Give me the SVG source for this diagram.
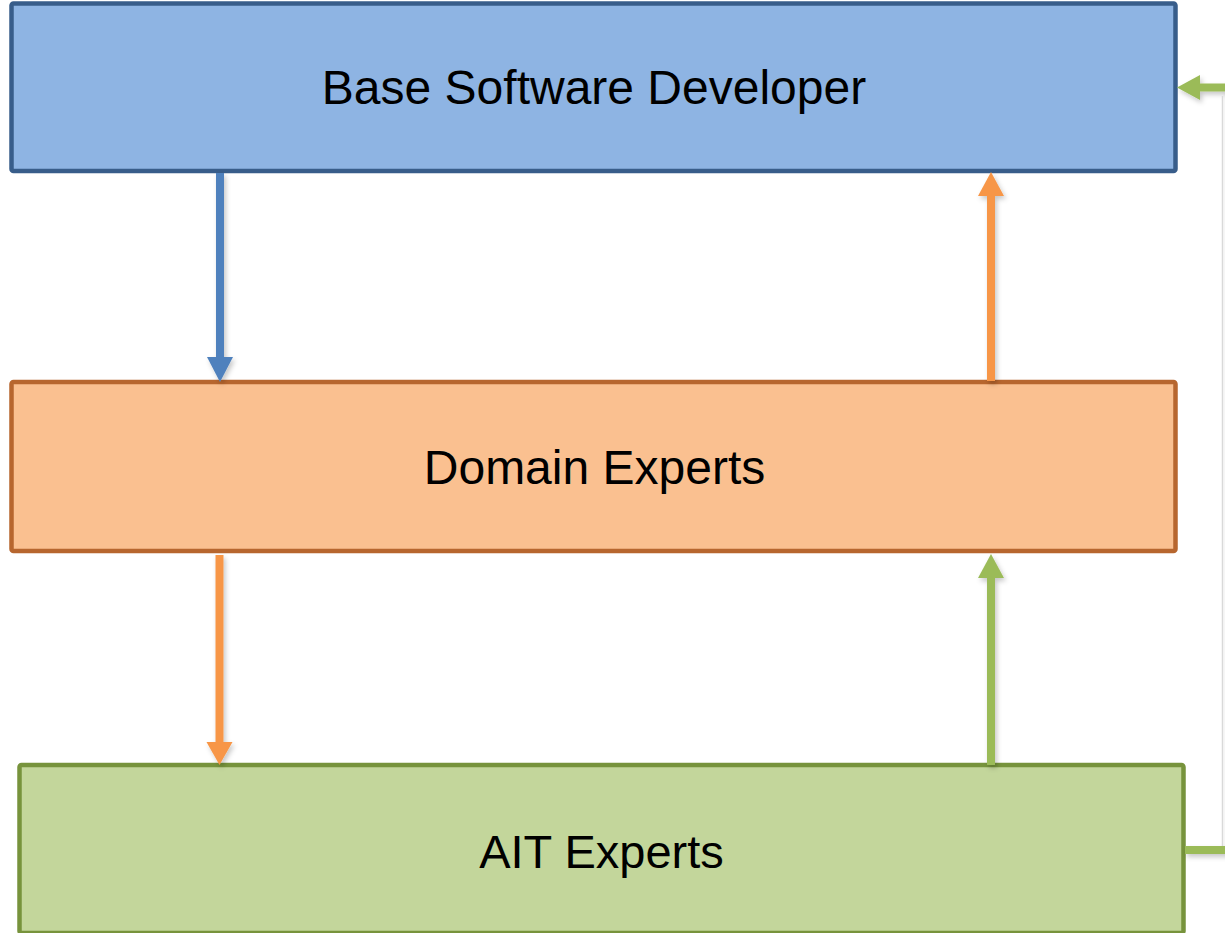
<svg xmlns="http://www.w3.org/2000/svg" width="1225" height="933" viewBox="0 0 1225 933">
  <style>
    .box { stroke-width: 4.5; }
    .label { font-family: "Liberation Sans", Arial, sans-serif; font-size: 48px; fill: #000; text-anchor: middle; }
    .shaft { fill: none; stroke-width: 8; }
  </style>
  <defs>
    <filter id="soft" x="-20%" y="-20%" width="140%" height="140%">
      <feDropShadow dx="2" dy="3" stdDeviation="2.5" flood-color="#000" flood-opacity="0.22"/>
    </filter>
  </defs>

  <rect width="1225" height="933" fill="#fff"/>

  <!-- role boxes -->
  <g id="base-software-developer">
    <rect class="box" x="11.5" y="3.5" width="1164" height="167.5" rx="2" fill="#8EB4E3" stroke="#385D8A"/>
    <text class="label" x="594" y="104">Base Software Developer</text>
  </g>
  <g id="domain-experts">
    <rect class="box" x="11.5" y="382" width="1164" height="169" rx="2" fill="#FAC090" stroke="#B7662E"/>
    <text class="label" x="594.5" y="484">Domain Experts</text>
  </g>
  <g id="ait-experts">
    <rect class="box" x="19.5" y="765" width="1164" height="168" rx="2" fill="#C3D69B" stroke="#77933C"/>
    <text class="label" x="601.5" y="868" style="font-size:47px">AIT Experts</text>
  </g>

  <!-- connectors -->
  <g id="connectors" filter="url(#soft)">
    <!-- developer to domain experts -->
    <line class="shaft" x1="220" y1="173" x2="220" y2="360" stroke="#4F81BD"/>
    <polygon points="207,357 233,357 220,382" fill="#4F81BD"/>

    <!-- domain experts back to developer -->
    <line class="shaft" x1="991" y1="381" x2="991" y2="193" stroke="#F79646"/>
    <polygon points="978,196 1004,196 991,172" fill="#F79646"/>

    <!-- domain experts to AIT experts -->
    <line class="shaft" x1="219.5" y1="555" x2="219.5" y2="745" stroke="#F79646"/>
    <polygon points="206.5,742 232.5,742 219.5,765" fill="#F79646"/>

    <!-- AIT experts back to domain experts -->
    <line class="shaft" x1="991" y1="765" x2="991" y2="575" stroke="#9BBB59"/>
    <polygon points="978,578 1004,578 991,554" fill="#9BBB59"/>

    <!-- AIT experts back to developer along the right edge -->
    <polyline class="shaft" points="1185,850 1229,850 1229,87.5 1198,87.5" stroke="#9BBB59"/>
    <polygon points="1200,75 1200,100 1177,87.5" fill="#9BBB59"/>
  </g>
  <line x1="1222.5" y1="96" x2="1222.5" y2="846" stroke="#d9d9d9" stroke-width="1.5"/>
</svg>
